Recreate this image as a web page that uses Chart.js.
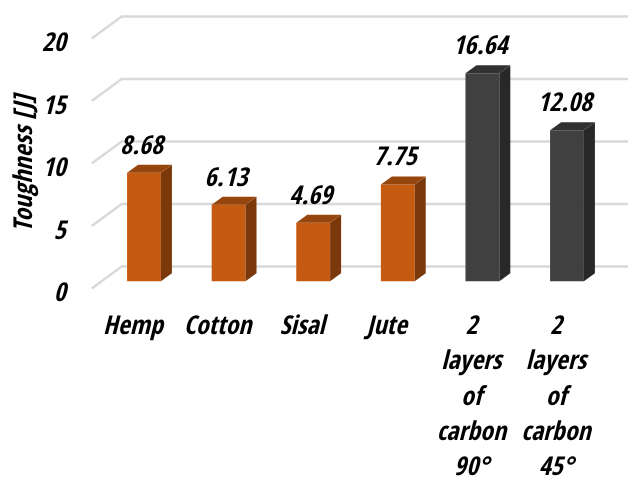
<!DOCTYPE html>
<html>
<head>
<meta charset="utf-8">
<script src="https://cdn.jsdelivr.net/npm/chart.js@4"></script>
<style>
html,body{margin:0;padding:0;background:#fff;}
#wrap{width:628px;height:477px;}
</style>
</head>
<body>
<div id="wrap"><canvas id="c" width="628" height="477"></canvas></div>
<script>
const categories = ["Hemp", "Cotton", "Sisal", "Jute",
  ["2", "layers", "of", "carbon", "90°"],
  ["2", "layers", "of", "carbon", "45°"]];
const toughness = [8.68, 6.13, 4.69, 7.75, 16.64, 12.08];
const yTicks = [0, 5, 10, 15, 20];

const frontColors = ["#C55A11", "#C55A11", "#C55A11", "#C55A11", "#404040", "#404040"];
const topColors   = ["#96450D", "#96450D", "#96450D", "#96450D", "#313131", "#313131"];
const sideColors  = ["#7B380A", "#7B380A", "#7B380A", "#7B380A", "#282828", "#282828"];

const FONT_FAMILY = '"Open Sans Condensed", "Liberation Sans", sans-serif';
const labelFont = { family: FONT_FAMILY, size: 26, weight: "bold", style: "italic" };
const BAR_DEPTH = { x: 11, y: -8 };
const WALL_DEPTH = { x: 30, y: -22 };

// Pseudo-3D extras: the floor/wall grid behind the bars, then side and top
// faces plus value labels on top of them.
const depthPlugin = {
  id: "depth",
  beforeDatasetsDraw(chart) {
    const { ctx, scales } = chart;
    ctx.save();
    ctx.strokeStyle = "#D9D9D9";
    ctx.lineWidth = 2.4;
    ctx.lineJoin = "round";
    yTicks.forEach(v => {
      const y = scales.y.getPixelForValue(v);
      const x0 = chart.chartArea.left - 10;
      ctx.beginPath();
      ctx.moveTo(x0, y);
      ctx.lineTo(x0 + WALL_DEPTH.x, y + WALL_DEPTH.y);
      ctx.lineTo(chart.width, y + WALL_DEPTH.y);
      ctx.stroke();
    });
    ctx.restore();
  },
  afterDatasetsDraw(chart) {
    const { ctx } = chart;
    const bars = chart.getDatasetMeta(0).data;
    ctx.save();
    bars.forEach((bar, i) => {
      const l = bar.x - bar.width / 2, r = bar.x + bar.width / 2;
      const t = bar.y, b = bar.base;
      ctx.fillStyle = sideColors[i];
      ctx.beginPath();
      ctx.moveTo(r, t);
      ctx.lineTo(r + BAR_DEPTH.x, t + BAR_DEPTH.y);
      ctx.lineTo(r + BAR_DEPTH.x, b + BAR_DEPTH.y);
      ctx.lineTo(r, b);
      ctx.closePath();
      ctx.fill();
      ctx.fillStyle = topColors[i];
      ctx.beginPath();
      ctx.moveTo(l, t);
      ctx.lineTo(l + BAR_DEPTH.x, t + BAR_DEPTH.y);
      ctx.lineTo(r + BAR_DEPTH.x, t + BAR_DEPTH.y);
      ctx.lineTo(r, t);
      ctx.closePath();
      ctx.fill();
      ctx.fillStyle = "#000";
      ctx.font = `italic bold ${labelFont.size}px ${FONT_FAMILY}`;
      ctx.textAlign = "center";
      ctx.textBaseline = "alphabetic";
      ctx.fillText(toughness[i].toFixed(2), bar.x - 2.5, t - 19);
    });
    ctx.restore();
  }
};

new Chart(document.getElementById("c"), {
  type: "bar",
  data: {
    labels: categories,
    datasets: [{
      data: toughness,
      yAxisID: "yBars",
      backgroundColor: frontColors,
      barPercentage: 0.4,
      categoryPercentage: 1
    }]
  },
  options: {
    responsive: false,
    animation: false,
    layout: { padding: { top: 38.5, right: 18.7, left: 0, bottom: 0 } },
    plugins: { legend: { display: false }, tooltip: { enabled: false } },
    scales: {
      x: {
        border: { display: false },
        grid: { display: false, drawTicks: false },
        ticks: {
          color: "#000",
          font: { ...labelFont, lineHeight: 1.36 },
          maxRotation: 0,
          autoSkip: false,
          padding: 21,
          labelOffset: -11
        },
        afterFit(scale) { scale.height = 188.5; }
      },
      y: {
        min: 0,
        max: 20,
        afterBuildTicks(scale) { scale.ticks = yTicks.map(value => ({ value })); },
        border: { display: false },
        // Long invisible tick marks hold the labels away from the floor lines.
        grid: { drawOnChartArea: false, drawTicks: true, tickLength: 36, tickColor: "transparent" },
        ticks: { color: "#000", font: labelFont, padding: 0, labelOffset: 6 },
        title: {
          display: true,
          text: "Toughness [J]",
          color: "#000",
          font: labelFont,
          padding: { top: 10, bottom: 0 }
        },
        afterFit(scale) { scale.width = 101.7; }
      },
      // Bars stand a little in front of the axis baseline, so they use a shifted range.
      yBars: { display: false, min: -0.58, max: 19.42 }
    }
  },
  plugins: [depthPlugin]
});
</script>
</body>
</html>
